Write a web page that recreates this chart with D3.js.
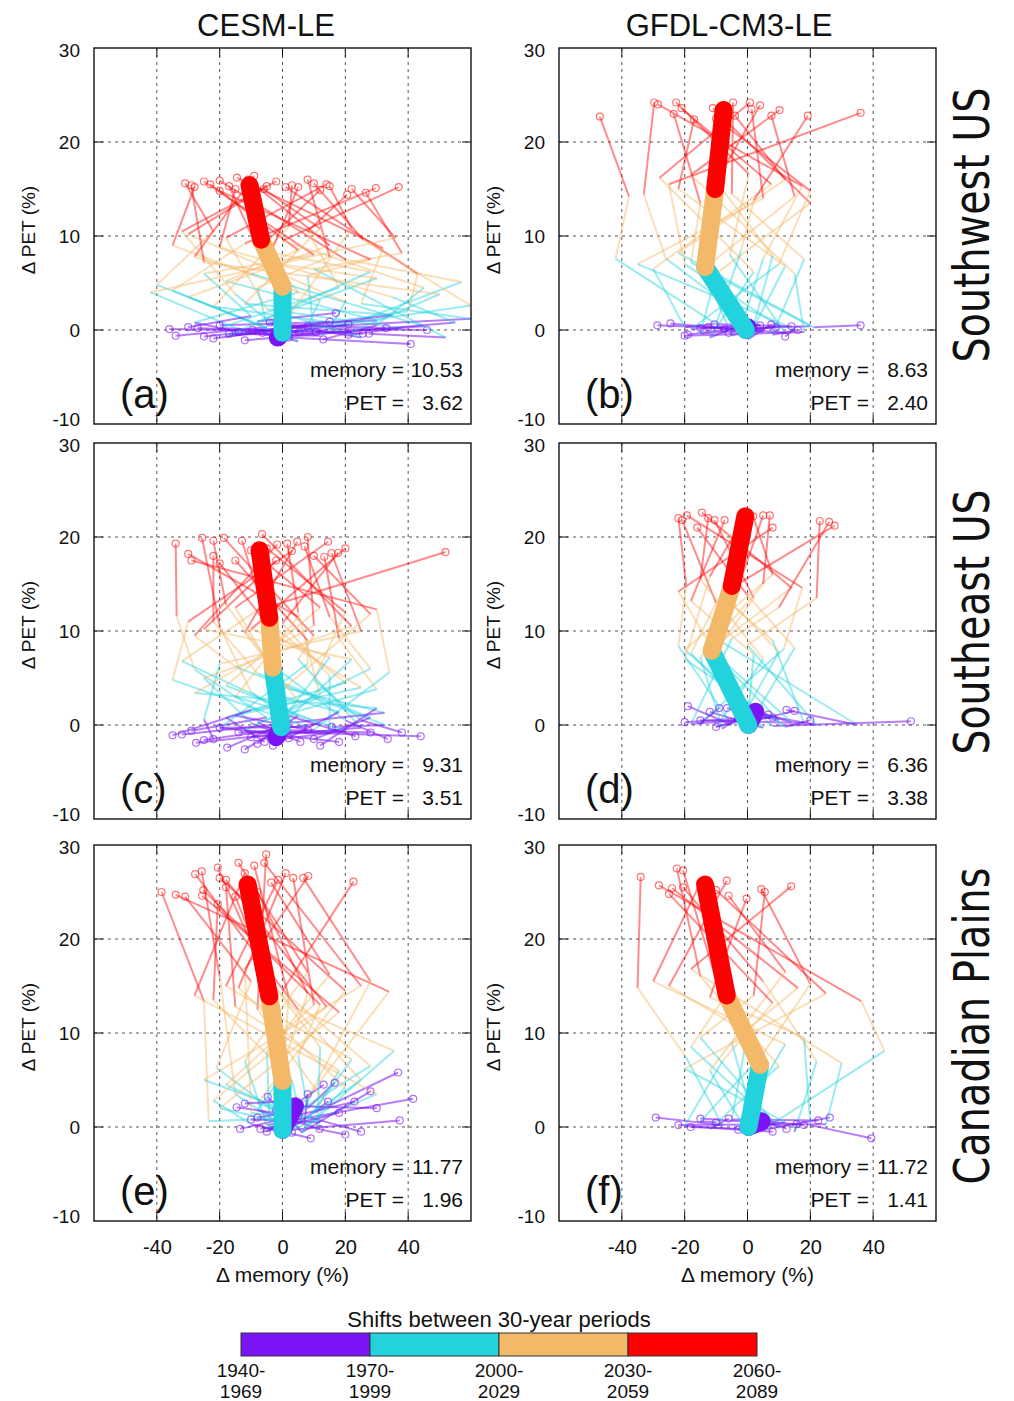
<!DOCTYPE html>
<html>
<head>
<meta charset="utf-8">
<script src="https://cdn.jsdelivr.net/npm/d3@7"></script>
<style>
  body { margin: 0; background: #fff; }
  text { font-family: "Liberation Sans", Arial, Helvetica, sans-serif; fill: #111; }
</style>
</head>
<body>
<div id="chart"></div>
<script>
// ---- data ----
const periods = ["1940-1969", "1970-1999", "2000-2029", "2030-2059", "2060-2089"];
const periodColors = ["#7b14f5", "#22d3dd", "#f3b868", "#ff0000"];
const models = ["CESM-LE", "GFDL-CM3-LE"];
const regions = ["Southwest US", "Southeast US", "Canadian Plains"];
const panelLetters = ["(a)", "(b)", "(c)", "(d)", "(e)", "(f)"];
const memoryShift = [10.53, 8.63, 9.31, 6.36, 11.77, 11.72];
const petShift = [3.62, 2.40, 3.51, 3.38, 1.96, 1.41];
const xTicks = [-40, -20, 0, 20, 40];
const yTicks = [-10, 0, 10, 20, 30];

// ensemble-mean path, one point per period (memory %, PET %)
const meanA = [[-1.5, -0.8], [0, -0.3], [0, 4.6], [-6.8, 9.6], [-10.5, 15.4]];
const meanB = [[0, 0.3], [-0.5, 0], [-13.5, 6.7], [-10.3, 15], [-7.6, 23.4]];
const meanC = [[-2, -1.3], [-0.4, -0.25], [-3.1, 6.1], [-4.2, 11.4], [-7.3, 18.6]];
const meanD = [[2.5, 1.4], [0.3, 0], [-11.4, 7.9], [-5, 14.8], [-0.7, 22.2]];
const meanE = [[4, 2.2], [0, -0.3], [0, 4.9], [-4.2, 13.9], [-11.1, 25.8]];
const meanF = [[4.5, 0.6], [0.3, 0], [4, 6.6], [-6.6, 14], [-13.5, 25.8]];

// members: x0,y0, x1,y1, x2,y2, x3,y3, x4,y4
const membersA = [
  [-34, -0.6, -5, 0.3, -40, 4.8, -22, 10.5, -31, 15.6],
  [-25, -0.7, 8, 0.5, 12, 3.2, -35, 9.0, -28, 15.2],
  [-20, 0.5, 30, 1.0, -18, 5.2, 5, 8.5, -23, 15.5],
  [-17, -0.4, 12, -0.6, 57, 5.1, 20, 7.5, -20, 15.9],
  [-14, -0.2, -28, 0.8, 5, 4.0, -10, 10.2, -17, 15.3],
  [-9.5, 0, 60, 1.2, 25, 2.8, 32, 8.7, -14.5, 16.2],
  [-6.4, -0.3, 5, -1.2, -30, 3.5, 15, 9.0, -11, 16.0],
  [-1.6, -0.6, 45, 0.4, -10, 6.0, -28, 7.8, -9, 16.4],
  [5.3, -0.2, -15, -0.5, 40, 2.0, 43, 6.0, 1, 15.2],
  [10.6, -0.2, 20, 0.6, -22, 2.5, 2, 11.0, 3, 15.4],
  [17, 1.8, -8, 0.9, 30, 5.5, -5, 7.2, 5, 15.2],
  [21, 0.6, 0, -0.3, 60, 2.6, 25.7, 9.6, 10, 15.6],
  [21, -0.5, 38, 0.2, -5, 2.2, -18, 9.8, 14, 15.5],
  [25.6, -0.4, -20, 0.2, 18, 4.5, 8, 10.5, 20.6, 14.4],
  [27.5, -0.4, 52, -0.8, 10, 6.5, 38, 8.2, 26.5, 14.6],
  [40.8, -1.5, 2, -0.8, -35, 4.2, -12, 9.2, 29.7, 15.1],
  [46, 0, 15, 0.1, 20, 3.0, -30, 10.2, -5, 15.3],
  [-30, 0.3, -10, 1.5, -25, 6.0, 10, 8.0, -25, 15.8],
  [-4, 0.8, 25, -0.8, 2, 1.5, 22, 10.8, 15, 15.3],
  [8, 0.4, -2, 0.3, -15, 3.8, -32, 10.5, -2, 15.8],
  [13, -1.0, 30, 0.5, 45, 4.5, 0, 9.5, 37, 15.2],
  [-27, 0.2, 10, -0.4, 8, 5.8, 28, 7.5, -20, 14.8],
  [33, 0.2, -5, 0.6, -8, 4.5, 15, 7.8, 8, 16.0],
  [-12, -1.1, 55, 0.8, 35, 3.5, -20, 8.8, -15, 15.0],
  [2, -0.8, -12, -0.2, -42, 4.0, 36, 9.8, 22, 15.0],
  [-22, -0.9, 35, 1.6, -12, 2.8, 12, 10.8, -6, 15.0],
  [15, 0.9, -18, -0.7, 28, 6.2, -8, 8.5, 12, 14.9],
  [-36, 0.1, 22, -0.2, 50, 3.8, -25, 7.2, -29, 15.4]
];
const membersB = [
  [-28.7, 0.5, -8, 0.2, -42, 7.6, -37.7, 14.2, -47, 22.7],
  [-24.5, 0.7, 5, -0.2, -26, 7.6, -33, 14.4, -29.7, 24.2],
  [-19, -0.5, -2, 0.3, 5, 7.6, 17.4, 15.3, -28.5, 24.0],
  [-12.5, 0.3, 12, -0.3, -5.6, 8.0, 0.4, 16.6, -22.7, 24.2],
  [-10.5, 0.6, -20, 0.3, -30, 6.5, 7.6, 15.5, -21, 23.6],
  [-7.3, 0.1, 20, 0.4, -18, 7.2, -15, 13.5, -23.5, 23.0],
  [7.6, 0.6, 0, -1.0, 12, 6.8, -22, 15.0, -17, 22.4],
  [9, 0.3, -15, -0.4, -10, 6.0, 20, 13.5, -11, 23.6],
  [16, 0.0, 8, -0.5, 18, 7.5, -5, 14.5, -4.6, 24.2],
  [36, 0.5, 21, 0.3, -22, 8.2, 12, 16.0, -4, 22.8],
  [-3, 0.4, -12, -0.8, 2, 6.2, -28, 16.2, 0.8, 24.2],
  [12, -0.7, 15, 0.1, -35, 7.0, 5, 14.0, 1.3, 23.5],
  [-15, 0.2, 2, 0.5, 8, 7.9, -10, 15.8, 4, 23.9],
  [3, 0.2, -5, -0.6, -14, 6.5, 15, 14.2, 7.6, 22.8],
  [-20, -0.6, 18, -0.2, 15, 6.0, -18, 16.5, 10.2, 23.4],
  [14, 0.4, -10, 0.6, -2, 8.5, 2, 13.8, 19.2, 22.8],
  [-6, -0.3, 10, 0.4, -20, 7.0, -25, 15.5, 36, 23.1],
  [4, 0.5, -18, 0.1, 10, 7.0, 20, 14.8, -10, 22.5]
];
const membersC = [
  [-29, -0.6, -5, 0.8, -28, 5.9, -33.7, 11.6, -34, 19.3],
  [-27.5, -1.9, 10, -0.5, 34, 5.6, 30, 12.3, -29, 17.5],
  [-17.6, -2.4, 3, 0.5, -10, 3.5, -20, 10.5, -25.6, 19.9],
  [-10, -1.3, 25, -0.3, 5, 7.0, 10, 9.5, -18.7, 19.9],
  [-5.7, -1.8, -18, 0.8, 20, 4.5, -5, 11.0, -12.9, 19.6],
  [5.7, -1.8, -10, 0.2, -25, 5.0, 22, 10.5, -6.5, 20.3],
  [15.7, -0.2, 32.6, 0.0, -15, 6.2, -28, 9.5, -1.7, 19.2],
  [23.2, -1.2, 0, 1.2, 12, 3.0, 5, 12.0, 1.5, 19.3],
  [33.5, -1.5, 20, 0.5, -5, 6.8, -12, 9.8, 4.7, 19.5],
  [44, -1.2, -12, -0.6, 28, 6.0, 15, 11.5, 7, 19.0],
  [-32, -1.0, 32.5, 1.3, 0, 4.0, -15, 12.5, 14.5, 19.5],
  [-22, -1.5, -25, 0.6, -20, 6.5, 25, 10.0, 15.6, 18.3],
  [-14, -0.8, 15, -0.8, 15, 5.2, 0, 10.8, 17.7, 18.3],
  [-8, -2.0, 5, 1.0, -32, 6.8, -8, 12.2, 51.9, 18.4],
  [0, -1.0, -8, 0.3, 30, 3.8, 18, 9.2, 13.3, 17.9],
  [10, -1.5, 28, 0.8, -8, 5.5, -22, 11.0, -22, 18.0],
  [18, -1.8, -20, -0.3, 8, 6.5, 8, 9.0, -15, 17.5],
  [-25, -1.6, 12, 0.2, -18, 4.2, 12, 12.5, -10, 18.6],
  [28, -0.8, -2, -0.5, 22, 7.0, -25, 10.2, -2, 17.5],
  [-3, -2.2, 18, 1.4, -2, 3.2, 28, 11.8, 10, 18.0],
  [8, -0.5, -15, 1.0, 25, 4.0, -2, 9.5, -20, 17.2],
  [-20, -0.3, 8, -0.2, -35, 4.8, -30, 11.0, 3, 18.5],
  [38, -0.8, 25, 0.5, 10, 4.8, 20, 12.0, -5, 18.8],
  [-12, -2.6, -3, -0.8, 15, 7.2, -10, 10.2, 20, 18.8],
  [2, -1.4, 20, -0.6, -15, 3.0, 5, 11.5, -30, 18.2],
  [-35, -1.1, -10, 1.6, 5, 2.5, -18, 12.8, -22, 19.6],
  [12, -2.2, 30, 1.8, -28, 3.4, 10, 10.6, 8, 20.0]
];
const membersD = [
  [-19, 2.0, -5, 0.0, -22, 8.4, -19.5, 14.9, -22, 22.0],
  [-12, 1.4, 5, -0.3, -18, 7.6, -10, 13.0, -20.8, 21.8],
  [-9, 1.8, -15, 0.2, 11.6, 8.1, 17.4, 14.6, -19.3, 22.3],
  [-6.5, 1.8, 10, 0.5, -12, 8.0, 14, 14.6, -14.5, 22.6],
  [6.6, 1.1, -10, -0.2, 5, 7.0, -15, 15.5, -12.5, 22.0],
  [12.4, 1.6, 35, 0.0, -8, 8.8, 2, 13.5, -10.5, 21.8],
  [15, 1.5, 0, 0.3, 2, 7.5, -18, 13.2, -7.3, 21.8],
  [52, 0.4, 8, -0.1, -20, 8.0, 8, 16.0, 1.8, 22.2],
  [-15, 0.5, 18, 0.2, 8, 9.0, -5, 12.8, 5, 22.3],
  [-3, 0.8, -8, -0.4, -15, 7.2, 5, 15.0, 7.1, 22.3],
  [3, 1.2, 22, 0.0, 0, 8.5, 22, 13.5, 23, 21.7],
  [-10, -0.2, -2, 0.6, 10, 7.8, -8, 14.0, 27.7, 21.2],
  [8, 0.8, -18, 0.1, -5, 9.2, 10, 12.5, 26, 21.6],
  [20, 0.5, 12, -0.2, -20, 7.0, -12, 15.8, -2, 21.5],
  [-20, 0.3, 2, 0.8, 15, 8.2, 0, 13.8, -16, 21.0],
  [1, 1.6, 14, 0.3, -10, 7.5, -22, 14.2, 8, 21.0]
];
const membersE = [
  [-13.5, -0.2, 2, 1.0, -23.5, 0.6, -25, 13.4, -38.5, 25.0],
  [-7, -0.2, 5, 0.5, 10, 4.0, 33.9, 14.4, -34, 24.7],
  [-14.6, 2.1, -2, 1.5, -21, 6.3, -10, 15.5, -31, 24.5],
  [-4.7, 3.2, 6, -0.5, 35.5, 8.1, 5, 12.5, -27.8, 26.9],
  [13.1, 4.5, -3, 0.8, -15, 3.5, -20, 16.0, -25.7, 27.2],
  [16.6, 4.7, 8, 2.0, 5, 7.5, 12, 13.0, -25.2, 25.2],
  [14.5, 2.7, 0, -0.8, 25, 5.0, -5, 15.8, -20.6, 27.6],
  [22.9, 2.7, 4, 1.2, -8, 2.5, 20, 14.5, -20, 26.5],
  [36.8, 5.8, 10, 1.5, 18, 6.0, -15, 12.8, -18, 25.5],
  [41.6, 3.0, -5, 0.2, -12, 7.0, 8, 16.5, -14, 28.1],
  [37.3, 0.7, 3, -0.3, 30, 3.5, -28, 14.0, -12, 27.0],
  [11.8, -0.2, -8, 1.8, 0, 5.5, 2, 13.8, -9, 27.8],
  [-10, 0.8, 12, 0.5, -25, 5.0, 25, 15.0, -5.8, 28.1],
  [-2, 1.8, 2, 2.5, 15, 2.0, -8, 12.5, -5.2, 29.0],
  [5, 1.2, -4, -0.2, -5, 8.0, 15, 16.2, -3.6, 26.0],
  [8, 3.5, 7, 0.3, 22, 7.2, -18, 15.0, -1.4, 26.3],
  [-8, 1.0, 1, 1.5, -18, 4.5, 10, 13.0, 3.4, 26.5],
  [18, 1.5, -6, -0.5, 8, 3.0, 28, 15.5, 6.6, 26.5],
  [25, -0.5, 9, 1.0, -10, 1.5, -12, 16.8, 8.2, 26.7],
  [-5, -0.5, -2, 0.2, 28, 6.5, 0, 14.5, 22.6, 26.1],
  [30, 2.0, 5, 2.2, 3, 5.0, -22, 13.5, -20.6, 23.7],
  [3, -0.6, 0, 0.5, -20, 2.0, 18, 12.2, -25.6, 24.6],
  [20, -0.8, 11, -0.2, 12, 8.5, -5, 16.0, -15, 24.5],
  [-12, 2.5, 3, 2.8, -3, 3.5, 8, 14.2, -8, 25.0],
  [9, -1.2, -10, 0.3, -22, 2.8, 14, 12.8, -18, 26.3],
  [28, 3.8, 6, -0.6, 20, 4.2, -14, 14.8, 1, 27.0]
];
const membersF = [
  [-29.2, 1.0, -8, 0.2, -19.7, 7.5, -35, 14.8, -34, 26.6],
  [-18.1, 0.0, 5, -0.3, 43.6, 8.1, 36.2, 13.4, -28.2, 25.7],
  [-15, 0.9, 2, 0.5, -5, 9.0, 16, 14.8, -24, 25.4],
  [-6, 0.9, -12, -0.2, 10, 6.5, -15, 16.0, -22.5, 27.5],
  [12.4, -0.2, 8, 0.4, -18, 8.5, -8, 13.5, -20.5, 27.3],
  [15.6, 0.3, 15, -0.5, 22, 7.0, 5, 15.5, -20.5, 25.5],
  [22.5, 0.7, -5, 0.8, 0, 10.0, -25, 15.0, -6.6, 26.2],
  [26.2, 1.0, 0, -0.6, -12, 6.0, 12, 16.5, -6, 24.6],
  [39.4, -1.2, 20, 0.2, 18, 9.5, -12, 13.8, -0.3, 24.3],
  [-10, 0.5, -15, 0.6, 5, 7.8, 20, 15.2, 4.4, 25.3],
  [5, 0.8, 10, -0.1, -15, 9.5, 2, 14.0, 5.5, 25.0],
  [-22, 0.2, 25, 0.3, 30, 6.8, -18, 16.8, 13.9, 25.6],
  [8, -0.5, -20, 0.1, -8, 7.0, 8, 13.2, -25, 24.8],
  [18, 0.2, -2, 0.9, 12, 8.8, -30, 15.5, -15, 26.0],
  [-3, -0.3, 12, 0.5, -20, 6.2, 25, 14.2, -10, 25.2]
];

const panels = [
  {mean: meanA, members: membersA}, {mean: meanB, members: membersB},
  {mean: meanC, members: membersC}, {mean: meanD, members: membersD},
  {mean: meanE, members: membersE}, {mean: meanF, members: membersF}
];

// ---- layout ----
const width = 1014, height = 1401;
const panelLeft = [94, 559], panelTop = [48, 443, 845];
const pw = 377, ph = 376;
const thinOpacity = [0.55, 0.45, 0.45, 0.45];

let svg = d3.select("#chart").append("svg")
    .attr("width", width)
    .attr("height", height);

let x = d3.scaleLinear().domain([-60, 60]).range([0, pw]);
let y = d3.scaleLinear().domain([-10, 30]).range([ph, 0]);

panels.forEach(function (p, k) {
    let col = k % 2, row = Math.floor(k / 2);
    let g = svg.append("g")
        .attr("transform", "translate(" + panelLeft[col] + "," + panelTop[row] + ")");

    g.append("clipPath").attr("id", "clip" + k)
        .append("rect").attr("width", pw).attr("height", ph);

    // dashed grid
    g.selectAll(".gx").data(xTicks).enter().append("line")
        .attr("x1", d => x(d)).attr("x2", d => x(d))
        .attr("y1", 0).attr("y2", ph)
        .attr("stroke", "#444").attr("stroke-width", 0.9).attr("stroke-dasharray", "3,4");
    g.selectAll(".gy").data([0, 10, 20]).enter().append("line")
        .attr("y1", d => y(d)).attr("y2", d => y(d))
        .attr("x1", 0).attr("x2", pw)
        .attr("stroke", "#444").attr("stroke-width", 0.9).attr("stroke-dasharray", "3,4");

    // mirrored inside ticks
    xTicks.forEach(function (t) {
        g.append("line").attr("x1", x(t)).attr("x2", x(t)).attr("y1", 0).attr("y2", 9).attr("stroke", "#111");
        g.append("line").attr("x1", x(t)).attr("x2", x(t)).attr("y1", ph).attr("y2", ph - 9).attr("stroke", "#111");
    });
    [0, 10, 20].forEach(function (t) {
        g.append("line").attr("y1", y(t)).attr("y2", y(t)).attr("x1", 0).attr("x2", 9).attr("stroke", "#111");
        g.append("line").attr("y1", y(t)).attr("y2", y(t)).attr("x1", pw).attr("x2", pw - 9).attr("stroke", "#111");
    });

    // ensemble members, one segment per period shift
    let thin = g.append("g").attr("clip-path", "url(#clip" + k + ")");
    p.members.forEach(function (m) {
        for (let i = 0; i < 4; i++) {
            thin.append("line")
                .attr("x1", x(m[2 * i])).attr("y1", y(m[2 * i + 1]))
                .attr("x2", x(m[2 * i + 2])).attr("y2", y(m[2 * i + 3]))
                .attr("stroke", periodColors[i])
                .attr("stroke-width", 2)
                .attr("stroke-opacity", thinOpacity[i]);
        }
    });
    thin.selectAll(".start").data(p.members).enter().append("circle")
        .attr("cx", d => x(d[0])).attr("cy", d => y(d[1])).attr("r", 3.5)
        .attr("fill", "none").attr("stroke", periodColors[0])
        .attr("stroke-width", 1.2).attr("stroke-opacity", 0.6);
    thin.selectAll(".end").data(p.members).enter().append("circle")
        .attr("cx", d => x(d[8])).attr("cy", d => y(d[9])).attr("r", 3.5)
        .attr("fill", "none").attr("stroke", periodColors[3])
        .attr("stroke-width", 1.2).attr("stroke-opacity", 0.55);

    // ensemble mean
    for (let i = 0; i < 4; i++) {
        g.append("line")
            .attr("x1", x(p.mean[i][0])).attr("y1", y(p.mean[i][1]))
            .attr("x2", x(p.mean[i + 1][0])).attr("y2", y(p.mean[i + 1][1]))
            .attr("stroke", periodColors[i])
            .attr("stroke-width", 18)
            .attr("stroke-linecap", "round");
    }

    g.append("rect").attr("width", pw).attr("height", ph)
        .attr("fill", "none").attr("stroke", "#111").attr("stroke-width", 1.4);

    // tick labels
    let ya = g.append("g").call(d3.axisLeft(y).tickValues(yTicks).tickSize(0).tickPadding(14)
        .tickFormat(d => String(d)));
    ya.select(".domain").remove();
    ya.selectAll("text").attr("font-size", 19).attr("font-family", "Liberation Sans, Arial, sans-serif")
        .attr("dy", d => d == -10 ? "0.1em" : (d == 30 ? "0.45em" : "0.32em"));

    if (row == 2) {
        let xa = g.append("g").attr("transform", "translate(0," + ph + ")")
            .call(d3.axisBottom(x).tickValues(xTicks).tickSize(0).tickPadding(19)
                .tickFormat(d => String(d)));
        xa.select(".domain").remove();
        xa.selectAll("text").attr("font-size", 20).attr("font-family", "Liberation Sans, Arial, sans-serif");
        g.append("text").attr("x", x(0)).attr("y", ph + 61)
            .attr("text-anchor", "middle").attr("font-size", 21)
            .text("\u0394 memory (%)");
    }

    g.append("text").attr("transform", "translate(" + (-59) + "," + (ph / 2 - 6) + ") rotate(-90)")
        .attr("text-anchor", "middle").attr("font-size", 19)
        .text("\u0394 PET (%)");

    g.append("text").attr("x", 26).attr("y", 360).attr("font-size", 40)
        .text(panelLetters[k]);

    g.append("text").attr("x", pw - 67).attr("y", 329).attr("text-anchor", "end").attr("font-size", 21)
        .text("memory =");
    g.append("text").attr("x", pw - 8).attr("y", 329).attr("text-anchor", "end").attr("font-size", 21)
        .text(memoryShift[k].toFixed(2));
    g.append("text").attr("x", pw - 67).attr("y", 362).attr("text-anchor", "end").attr("font-size", 21)
        .text("PET =");
    g.append("text").attr("x", pw - 8).attr("y", 362).attr("text-anchor", "end").attr("font-size", 21)
        .text(petShift[k].toFixed(2));
});

// column titles
svg.selectAll(".model").data(models).enter().append("text")
    .attr("x", (d, i) => [266, 729][i]).attr("y", 36)
    .attr("text-anchor", "middle").attr("font-size", 31)
    .text(d => d);

// region labels on the right
const regionY = [225, 622, 1026], regionLen = [275, 265, 317];
svg.selectAll(".region").data(regions).enter().append("text")
    .attr("transform", (d, i) => "translate(989," + regionY[i] + ") rotate(-90)")
    .attr("text-anchor", "middle")
    .attr("font-size", 50)
    .style("font-family", "'Liberation Sans Narrow', 'Arial Narrow', 'DejaVu Sans Condensed', sans-serif")
    .attr("textLength", (d, i) => regionLen[i])
    .attr("lengthAdjust", "spacingAndGlyphs")
    .text(d => d);

// colour bar
let cb = d3.scaleLinear().domain([0, 4]).range([241, 757]);
svg.append("text").attr("x", cb(2)).attr("y", 1327).attr("text-anchor", "middle")
    .attr("font-size", 22).text("Shifts between 30-year periods");
svg.selectAll(".cbar").data(periodColors).enter().append("rect")
    .attr("x", (d, i) => cb(i)).attr("y", 1333)
    .attr("width", cb(1) - cb(0)).attr("height", 23)
    .attr("fill", d => d).attr("stroke", "#333").attr("stroke-width", 1);
let cbl = svg.selectAll(".cbl").data(periods).enter().append("text")
    .attr("text-anchor", "middle").attr("font-size", 19);
cbl.append("tspan").attr("x", (d, i) => cb(i)).attr("y", 1377).text(d => d.split("-")[0] + "-");
cbl.append("tspan").attr("x", (d, i) => cb(i)).attr("y", 1398).text(d => d.split("-")[1]);
</script>
</body>
</html>
